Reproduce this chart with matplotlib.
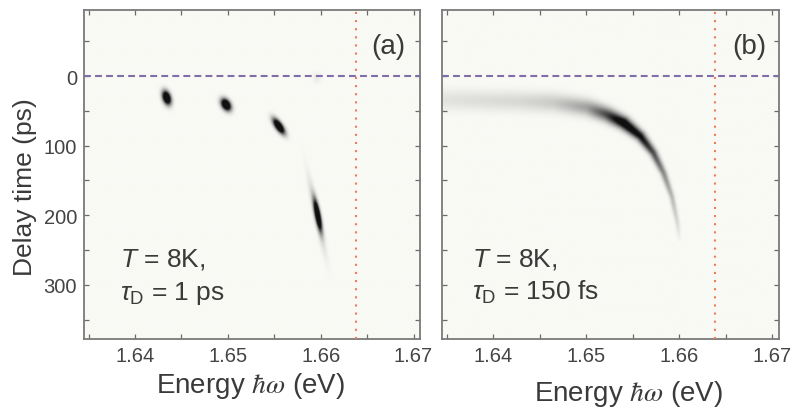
import numpy as np
import matplotlib
matplotlib.use('Agg')
import matplotlib.pyplot as plt
from matplotlib.colors import LinearSegmentedColormap
from matplotlib.ticker import MultipleLocator, FormatStrFormatter

plt.rcParams['font.family'] = ['Liberation Sans', 'DejaVu Sans']
plt.rcParams['mathtext.fontset'] = 'custom'
plt.rcParams['mathtext.it'] = 'Liberation Sans:italic'
plt.rcParams['mathtext.rm'] = 'Liberation Sans'
plt.rcParams['mathtext.sf'] = 'Liberation Sans'

# ---------------- data ----------------
energy_limits = [1.6345, 1.6707]
delay_limits = [378, -95]
zero_delay = 0.0
laser_energy = 1.6638
panel_labels = ['(a)', '(b)']
temp_labels = [r'$T$ = 8K,', r'$T$ = 8K,']
tau_labels = [r'$\tau_{\mathrm{D}}$ = 1 ps', r'$\tau_{\mathrm{D}}$ = 150 fs']

# panel (a): isolated emission spots
blob_energy = [1.6434, 1.6498, 1.6555, 1.6597, 1.6596, 1.6596]
blob_delay = [31, 41, 72, 200, 200, 2]
blob_long = [4.8, 4.4, 6.0, 10.5, 26.0, 4.0]     # px sigma along major axis
blob_short = [2.7, 2.9, 2.4, 1.8, 2.2, 3.0]      # px sigma across
blob_angle = [72, 58, 55, 79, 78, 90]            # deg (screen, downwards)
blob_amp = [1.8, 1.8, 1.8, 1.7, 0.22, 0.07]

# panel (b): continuous chirped arc
arc_energy = [1.6340, 1.6429, 1.6465, 1.6501, 1.6522, 1.6540, 1.6558,
              1.6572, 1.6583, 1.6592, 1.6598, 1.6600]
arc_delay = [34, 36, 38, 45, 55, 67, 86, 110, 139, 173, 211, 235]
arc_amp = [0.10, 0.15, 0.21, 0.40, 0.78, 1.25, 1.05, 0.75, 0.5, 0.3, 0.15, 0.03]
arc_width = [7.5, 7.0, 6.5, 5.6, 4.8, 4.2, 3.4, 2.8, 2.3, 1.9, 1.7, 1.5]

# ---------------- rendering helpers ----------------
E_SCALE = 9280.0   # px per eV
T_SCALE = 0.695    # px per ps
nE, nT = 700, 700
Eg = np.linspace(energy_limits[0], energy_limits[1], nE)
Tg = np.linspace(delay_limits[1], delay_limits[0], nT)
EE, TT = np.meshgrid(Eg, Tg)
X = EE * E_SCALE
Y = TT * T_SCALE


def blob_field():
    f = np.zeros_like(X)
    for e, t, sl, ss, ang, a in zip(blob_energy, blob_delay, blob_long,
                                    blob_short, blob_angle, blob_amp):
        th = np.deg2rad(ang)
        dx = X - e * E_SCALE
        dy = Y - t * T_SCALE
        u = dx * np.cos(th) + dy * np.sin(th)
        v = -dx * np.sin(th) + dy * np.cos(th)
        f += a * np.exp(-0.5 * ((u / sl) ** 2 + (v / ss) ** 2))
    return f


def arc_field():
    f = np.zeros_like(X)
    px = np.array(arc_energy) * E_SCALE
    py = np.array(arc_delay) * T_SCALE
    for i in range(len(px) - 1):
        qx, qy = px[i + 1] - px[i], py[i + 1] - py[i]
        L2 = qx * qx + qy * qy
        u = np.clip(((X - px[i]) * qx + (Y - py[i]) * qy) / L2, 0, 1)
        d2 = (X - px[i] - u * qx) ** 2 + (Y - py[i] - u * qy) ** 2
        a = arc_amp[i] + u * (arc_amp[i + 1] - arc_amp[i])
        w = arc_width[i] + u * (arc_width[i + 1] - arc_width[i])
        f = np.maximum(f, a * np.exp(-0.5 * d2 / w ** 2))
    return f


cmap = LinearSegmentedColormap.from_list('bw', ['#f9f9f5', '#8a8a8a', '#101010'])
text_c = '#3a3a3a'
spine_c = '#7a7a7a'

fig = plt.figure(figsize=(7.93, 4.10), dpi=100)
axa = fig.add_axes([84 / 793, 1 - 340 / 410, 336 / 793, 329 / 410])
axb = fig.add_axes([442 / 793, 1 - 340 / 410, 337 / 793, 329 / 410])

fields = [blob_field(), arc_field()]
for k, (ax, fld) in enumerate(zip([axa, axb], fields)):
    ax.imshow(np.clip(fld, 0, 1), cmap=cmap, vmin=0, vmax=1, aspect='auto',
              origin='upper', interpolation='bilinear',
              extent=(energy_limits[0], energy_limits[1], delay_limits[0], delay_limits[1]))
    ax.set_xlim(energy_limits)
    ax.set_ylim(delay_limits)
    ax.axhline(zero_delay, color='#7f6fa8', lw=1.5, dashes=(3.3, 2.0), zorder=3)
    ax.axvline(laser_energy, color='#f07a5a', lw=1.5, linestyle=(0, (1, 2.9)), zorder=3)
    ax.xaxis.set_major_locator(MultipleLocator(0.01))
    ax.xaxis.set_minor_locator(MultipleLocator(0.005))
    ax.yaxis.set_major_locator(MultipleLocator(100))
    ax.yaxis.set_minor_locator(MultipleLocator(50))
    ax.xaxis.set_major_formatter(FormatStrFormatter('%.2f'))
    ax.yaxis.set_major_formatter(FormatStrFormatter('%d'))
    for which in ('major', 'minor'):
        ax.tick_params(which=which, direction='in', top=True, right=True,
                       length=3.8, width=0.9, color='#6a6a6a')
    ax.tick_params(which='major', labelsize=14.5, labelcolor='#444444', pad=5)
    for s in ax.spines.values():
        s.set_color(spine_c)
        s.set_linewidth(1.3)
    ax.text(0.905 if k == 0 else 0.911, 0.89, panel_labels[k], transform=ax.transAxes,
            ha='center', va='center', fontsize=20, color=text_c)
    tx = 0.107 if k == 0 else 0.088
    ax.text(tx, 0.222, temp_labels[k], transform=ax.transAxes, fontsize=19,
            color=text_c)
    ax.text(tx, 0.122, tau_labels[k], transform=ax.transAxes, fontsize=19,
            color=text_c)

axb.tick_params(labelleft=False)

fig.text(25 / 793, 1 - 187 / 410, 'Delay time (ps)', rotation=90, ha='center',
         va='center', fontsize=19, color=text_c)
fig.text(251 / 793, 1 - 386 / 410, r'Energy $\hbar\omega$ (eV)', ha='center',
         va='center', fontsize=20, color=text_c, math_fontfamily='stix')
fig.text(629 / 793, 1 - 394 / 410, r'Energy $\hbar\omega$ (eV)', ha='center',
         va='center', fontsize=20, color=text_c, math_fontfamily='stix')

fig.savefig('out.png', dpi=100)
